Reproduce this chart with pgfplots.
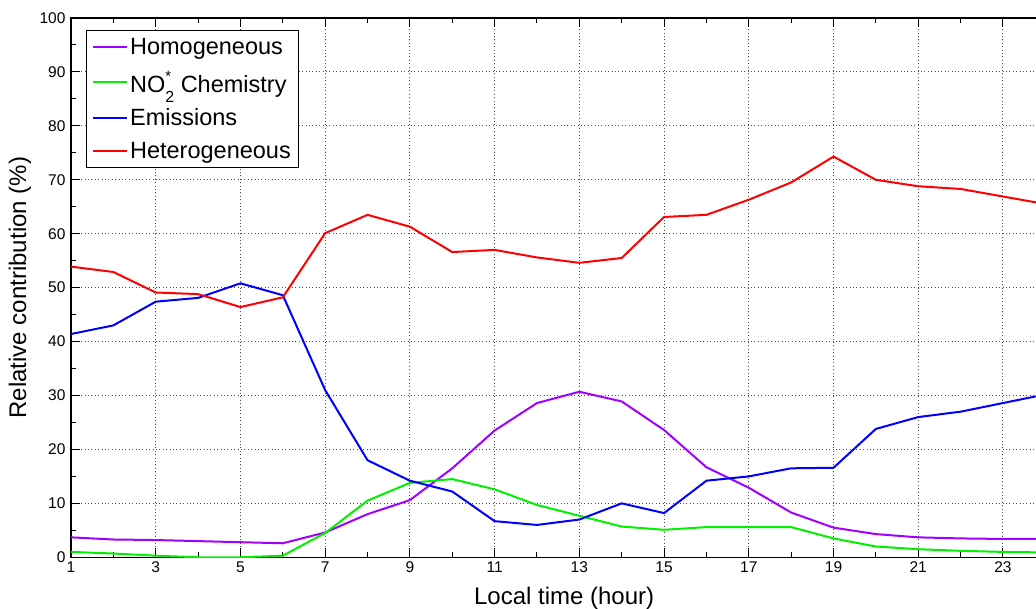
\documentclass[border=0pt]{standalone}
\usepackage{pgfplots}
\pgfplotsset{compat=1.18}
\usepackage{fontspec}
\setmainfont{Liberation Sans}
\definecolor{cPurple}{RGB}{160,0,255}
\definecolor{cGreen}{RGB}{0,240,0}
\definecolor{cBlue}{RGB}{0,0,255}
\definecolor{cRed}{RGB}{255,0,0}
\begin{document}
\begin{tikzpicture}
\begin{axis}[
  at={(0,0)}, anchor=south west,
  scale only axis, width=974.3pt, height=539.3pt,
  xmin=1, xmax=24, ymin=0, ymax=100,
  xtick={1,3,...,23}, minor xtick={2,4,...,24},
  ytick={0,10,...,100}, minor ytick={5,15,...,95},
  grid=major,
  major grid style={black!70, line width=0.9pt, dash pattern=on 1pt off 2.4pt},
  tick align=inside, major tick length=9pt, minor tick length=5pt,
  every tick/.style={black, line width=1pt},
  axis line style={line width=1.5pt},
  tick label style={font=\fontsize{15.5}{18}\selectfont},
  /pgf/number format/assume math mode=true,
  yticklabel style={xshift=-2pt},
  xticklabel style={yshift=-1pt},
  every axis x label/.style={at={(rel axis cs:0.5,0)}, yshift=-40.7pt, xshift=6pt, anchor=center, font=\fontsize{24}{28}\selectfont},
  every axis y label/.style={at={(rel axis cs:0,0.5)}, xshift=-51pt, rotate=90, anchor=center, font=\fontsize{24}{28}\selectfont},
  xlabel={Local time (hour)},
  ylabel={Relative contribution (\%)},
  legend style={at={(rel axis cs:0,1)}, anchor=north west, xshift=15pt, yshift=-12pt,
    font=\fontsize{23.5}{27}\selectfont, draw=black, line width=1.2pt, inner sep=5.5pt,
    cells={anchor=west}, row sep=11pt},
  legend image code/.code={\draw[#1,line width=2pt] (0pt,0pt) -- (34pt,0pt);},
  every axis plot/.append style={line width=2pt},
]
\addplot[cPurple] coordinates {(1,3.7) (2,3.3) (3,3.2) (4,3.0) (5,2.8) (6,2.6) (7,4.6) (8,8.0) (9,10.6) (10,16.5) (11,23.5) (12,28.6) (13,30.7) (14,28.9) (15,23.6) (16,16.7) (17,12.9) (18,8.3) (19,5.5) (20,4.3) (21,3.7) (22,3.5) (23,3.4) (24,3.4)};
\addlegendentry{Homogeneous}
\addplot[cGreen] coordinates {(1,1.0) (2,0.7) (3,0.3) (4,0.0) (5,0.0) (6,0.3) (7,4.5) (8,10.5) (9,13.8) (10,14.5) (11,12.6) (12,9.7) (13,7.7) (14,5.7) (15,5.1) (16,5.6) (17,5.6) (18,5.6) (19,3.5) (20,2.0) (21,1.5) (22,1.2) (23,1.0) (24,0.9)};
\addlegendentry{NO\rlap{\raisebox{11pt}{\fontsize{15}{15}\selectfont *}}\raisebox{-10pt}{\fontsize{16}{16}\selectfont 2} Chemistry}
\addplot[cBlue] coordinates {(1,41.4) (2,43.0) (3,47.4) (4,48.1) (5,50.8) (6,48.6) (7,31.0) (8,18.0) (9,14.2) (10,12.2) (11,6.7) (12,6.0) (13,7.0) (14,10.0) (15,8.2) (16,14.2) (17,15.0) (18,16.5) (19,16.6) (20,23.8) (21,26.0) (22,27.0) (23,28.6) (24,30.2)};
\addlegendentry{Emissions}
\addplot[cRed] coordinates {(1,53.9) (2,52.9) (3,49.1) (4,48.8) (5,46.4) (6,48.2) (7,60.1) (8,63.5) (9,61.3) (10,56.6) (11,57.0) (12,55.6) (13,54.6) (14,55.5) (15,63.1) (16,63.5) (17,66.3) (18,69.5) (19,74.3) (20,70.0) (21,68.8) (22,68.3) (23,66.9) (24,65.5)};
\addlegendentry{Heterogeneous}
\end{axis}
\pgfresetboundingbox
\path (-71pt,-51.7pt) rectangle (965pt,557.3pt);
\end{tikzpicture}
\end{document}
